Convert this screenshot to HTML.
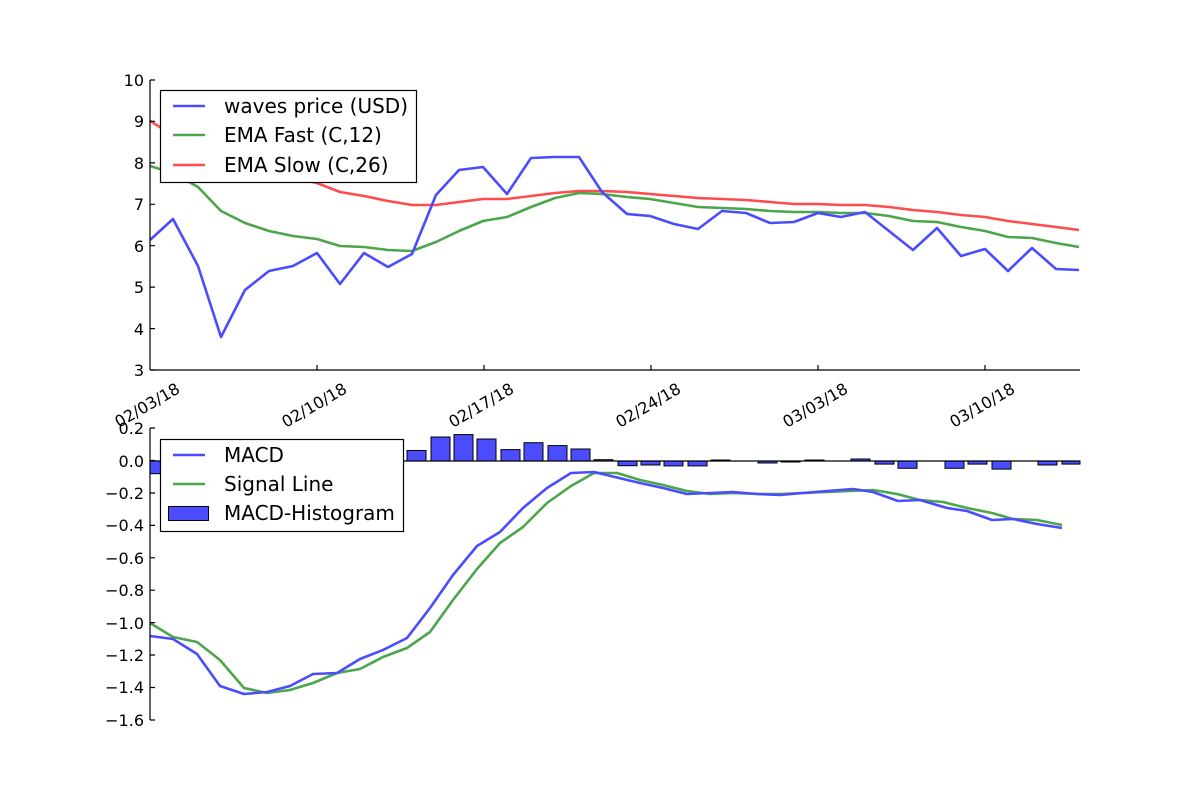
<!DOCTYPE html>
<html><head><meta charset="utf-8"><style>body{margin:0;background:#fff}svg{display:block}text{font-family:"DejaVu Sans","Liberation Sans",sans-serif;fill:#000}</style></head><body>
<svg width="1200" height="800" viewBox="0 0 1200 800" xmlns="http://www.w3.org/2000/svg">
<rect width="1200" height="800" fill="#fff"/>
<g fill="none" stroke-width="2.6" stroke-linejoin="round" opacity="0.7">
<polyline stroke="#ff0000" points="150,121 173,135 198,146 221,157 245,166 269,172 293,178 317,183 340,192 364,196 388,201 412,205 436,205 459,202 483,199 507,199 531,196 555,193 579,191 602,191 627,192 650,194 674,196 698,198 722,199 746,200 770,202 794,204 818,204 841,205 865,205 889,207 913,210 937,212 961,215 985,217 1008,221 1032,224 1056,227 1079,230"/>
<polyline stroke="#008000" points="150,166 173,173 198,187 221,211 245,223 269,231 293,236 317,239 340,246 364,247 388,250 412,251 436,242 459,231 483,221 507,217 531,207 555,198 579,193 602,194 627,197 650,199 674,203 698,207 722,208 746,209 770,211 794,212 818,212 841,213 865,213 889,216 913,221 937,222 961,227 985,231 1008,237 1032,238 1056,243 1079,247"/>
<polyline stroke="#0000ff" points="150,240 173,219 198,266 221,337 245,290 269,271 293,266 317,253 340,284 364,253 388,267 412,254 436,195 459,170 483,167 507,194 531,158 555,157 579,157 602,192 627,214 650,216 674,224 698,229 722,211 746,213 770,223 794,222 818,213 841,217 865,212 889,231 913,250 937,228 961,256 985,249 1008,271 1032,248 1056,269 1079,270"/>
</g>
<g stroke="#000" stroke-width="1.2" fill="none">
<line x1="150" y1="80" x2="150" y2="370"/><line x1="150" y1="370" x2="1080" y2="370"/>
<path d="M150 80h5M150 121.4h5M150 162.9h5M150 204.3h5M150 245.7h5M150 287.1h5M150 328.6h5M150 370h5M317 370v-5M484 370v-5M651 370v-5M818 370v-5M985 370v-5"/>
</g>
<g font-size="16" text-anchor="end">
<text x="144" y="86">10</text><text x="144" y="127">9</text><text x="144" y="169">8</text><text x="144" y="210">7</text><text x="144" y="252">6</text><text x="144" y="293">5</text><text x="144" y="335">4</text><text x="144" y="376">3</text>
</g>
<g font-size="16" text-anchor="middle">
<text transform="translate(150,410) rotate(-30)">02/03/18</text>
<text transform="translate(317,410) rotate(-30)">02/10/18</text>
<text transform="translate(484,410) rotate(-30)">02/17/18</text>
<text transform="translate(651,410) rotate(-30)">02/24/18</text>
<text transform="translate(818,410) rotate(-30)">03/03/18</text>
<text transform="translate(985,410) rotate(-30)">03/10/18</text>
</g>
<rect x="160.5" y="90.5" width="256" height="92" fill="#fff" stroke="#000" stroke-width="1.2"/>
<g stroke-width="2.6" opacity="0.7"><line x1="173" y1="106" x2="205" y2="106" stroke="#0000ff"/><line x1="173" y1="135" x2="205" y2="135" stroke="#008000"/><line x1="173" y1="165" x2="205" y2="165" stroke="#ff0000"/></g>
<g font-size="20"><text x="224" y="113">waves price (USD)</text><text x="224" y="142">EMA Fast (C,12)</text><text x="224" y="172">EMA Slow (C,26)</text></g>

<g fill="#0000ff" fill-opacity="0.7" stroke="#000" stroke-width="1">
<rect x="150" y="461" width="19" height="12.7"/>
<rect x="407" y="450.5" width="19" height="10.5"/>
<rect x="431" y="437" width="19" height="24"/>
<rect x="454" y="434.6" width="19" height="26.4"/>
<rect x="477" y="439" width="19" height="22"/>
<rect x="501" y="449.6" width="19" height="11.4"/>
<rect x="524" y="442.7" width="19" height="18.3"/>
<rect x="548" y="445.6" width="19" height="15.4"/>
<rect x="571" y="449" width="19" height="12"/>
<rect x="594" y="459.7" width="19" height="1.3"/>
<rect x="618" y="461" width="19" height="4.7"/>
<rect x="641" y="461" width="19" height="4"/>
<rect x="664" y="461" width="19" height="4.9"/>
<rect x="688" y="461" width="19" height="4.9"/>
<rect x="711" y="460" width="19" height="1"/>
<rect x="758" y="461" width="19" height="2"/>
<rect x="781" y="461" width="19" height="1"/>
<rect x="805" y="460" width="19" height="1"/>
<rect x="851" y="459" width="19" height="2"/>
<rect x="875" y="461" width="19" height="3.1"/>
<rect x="898" y="461" width="19" height="7.3"/>
<rect x="945" y="461" width="19" height="7.3"/>
<rect x="968" y="461" width="19" height="3.1"/>
<rect x="992" y="461" width="19" height="8.1"/>
<rect x="1038" y="461" width="19" height="4"/>
<rect x="1062" y="461" width="18" height="3.1"/>
</g>
<line x1="150" y1="461" x2="1080" y2="461" stroke="#000" stroke-width="1.2"/>
<g fill="none" stroke-width="2.6" stroke-linejoin="round" opacity="0.7">
<polyline stroke="#008000" points="150,623 173,637 197,642 220,660 244,688 267,693 290,690 313,683 337,673 360,669 383,657 407,648 430,632 453,600 477,569 500,543 523,527 547,503 571,486 594,473 617,473 640,480 663,485 687,491 710,494 733,493 757,494 780,494 803,493 827,492 850,491 873,490 897,494 920,500 943,502 967,508 992,513 1013,519 1037,520 1062,525"/>
<polyline stroke="#0000ff" points="150,636 173,639 197,654 220,686 244,694 267,692 290,686 313,674 337,673 360,659 383,650 407,638 430,608 453,575 477,546 500,532 523,508 547,488 571,473 594,472 619,478 640,483 663,488 687,494 710,493 733,492 757,494 780,495 803,493 827,491 853,489 873,492 898,501 920,500 947,508 967,511 992,520 1013,519 1037,524 1062,528"/>
</g>
<g stroke="#000" stroke-width="1.2" fill="none">
<line x1="150" y1="428" x2="150" y2="720"/>
<path d="M150 428h5M150 460.5h5M150 493h5M150 525.4h5M150 557.8h5M150 590.2h5M150 622.6h5M150 655h5M150 687.5h5M150 720h5"/>
</g>
<g font-size="16" text-anchor="end">
<text x="144" y="434">0.2</text><text x="144" y="467">0.0</text><text x="144" y="499">−0.2</text><text x="144" y="531">−0.4</text><text x="144" y="564">−0.6</text><text x="144" y="596">−0.8</text><text x="144" y="629">−1.0</text><text x="144" y="661">−1.2</text><text x="144" y="693">−1.4</text><text x="144" y="726">−1.6</text>
</g>
<rect x="160.5" y="439.5" width="243" height="92" fill="#fff" stroke="#000" stroke-width="1.2"/>
<g stroke-width="2.6" opacity="0.7"><line x1="173" y1="455" x2="205" y2="455" stroke="#0000ff"/><line x1="173" y1="484" x2="205" y2="484" stroke="#008000"/></g>
<rect x="168.5" y="506.5" width="40" height="14" fill="#0000ff" fill-opacity="0.7" stroke="#000"/>
<g font-size="20"><text x="224" y="462">MACD</text><text x="224" y="491">Signal Line</text><text x="224" y="520">MACD-Histogram</text></g>
</svg>
</body></html>
